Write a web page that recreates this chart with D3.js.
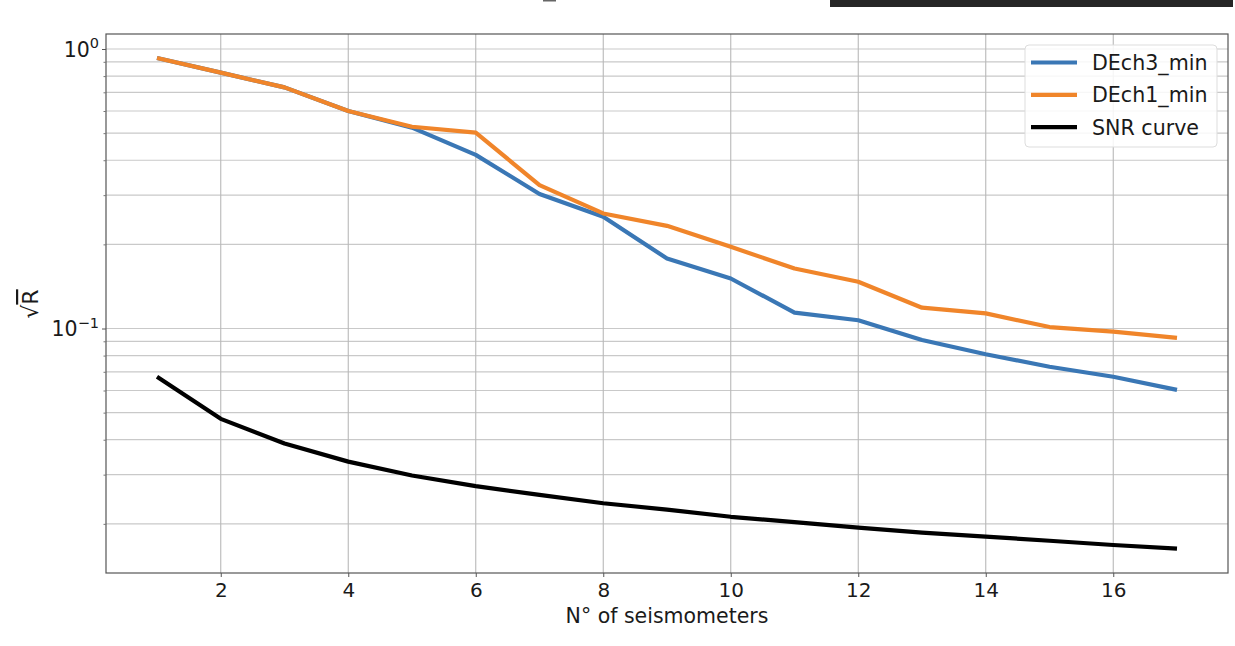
<!DOCTYPE html>
<html>
<head>
<meta charset="utf-8">
<script src="https://cdn.jsdelivr.net/npm/d3@7"></script>
<style>
  html, body { margin: 0; padding: 0; background: #ffffff; }
  svg { display: block; font-family: "DejaVu Sans", sans-serif; }
</style>
</head>
<body>
<svg id="chart" width="1235" height="646"></svg>
<script>
// ---- data ----
const seismometers = [1, 2, 3, 4, 5, 6, 7, 8, 9, 10, 11, 12, 13, 14, 15, 16, 17];
const dech3Min = [0.929, 0.823, 0.729, 0.600, 0.523, 0.418, 0.303, 0.251, 0.178, 0.151, 0.114, 0.107, 0.091, 0.0809, 0.073, 0.0672, 0.0603];
const dech1Min = [0.929, 0.823, 0.729, 0.600, 0.527, 0.502, 0.326, 0.258, 0.233, 0.196, 0.164, 0.147, 0.1187, 0.1133, 0.1012, 0.0974, 0.0925];
const snrCurve = [0.0672, 0.0475, 0.0388, 0.0334, 0.0298, 0.0273, 0.0254, 0.0237, 0.0225, 0.0212, 0.0203, 0.0194, 0.0186, 0.0180, 0.0174, 0.0168, 0.0163];
const seriesNames = ["DEch3_min", "DEch1_min", "SNR curve"];
const xTickValues = [2, 4, 6, 8, 10, 12, 14, 16];
const yMajorTicks = [1, 0.1];
const yMajorExponents = ["0", "\u22121"];
const xLabel = "N\u00B0 of seismometers";

(function () {
// ---- layout ----
const svg = d3.select("#chart");
const pL = 106, pR = 1228, pT = 34, pB = 573;
const colors = ["#3a77b5", "#f0852a", "#000000"];

const x = d3.scaleLinear().domain([0.2, 17.8]).range([pL, pR]);
const y = d3.scaleLog().domain([Math.pow(10, -1.8748), Math.pow(10, 0.0537)]).range([pB, pT]);

// top strip artefacts (cropped remains of the original screenshot)
svg.append("rect").attr("x", 830).attr("y", 0).attr("width", 403).attr("height", 7).attr("fill", "#262626");
svg.append("rect").attr("x", 543).attr("y", 0).attr("width", 13).attr("height", 1.5).attr("fill", "#666");

const [d0, d1] = y.domain();
const allTicks = y.ticks().filter(v => v >= d0 && v <= d1);
const minorTicks = allTicks.filter(v => !yMajorTicks.some(m => Math.abs(m - v) < 1e-9));

// grid
const grid = svg.append("g");
grid.selectAll("line.h").data(allTicks).enter().append("line")
  .attr("x1", pL).attr("x2", pR)
  .attr("y1", d => y(d)).attr("y2", d => y(d))
  .attr("stroke", "#c9c9c9").attr("stroke-width", 1.2);
grid.selectAll("line.v").data(xTickValues).enter().append("line")
  .attr("y1", pT).attr("y2", pB)
  .attr("x1", d => x(d)).attr("x2", d => x(d))
  .attr("stroke", "#b8b8b8").attr("stroke-width", 1.1);

// lines
const seriesData = [dech3Min, dech1Min, snrCurve];
const line = d3.line().x((d, i) => x(seismometers[i])).y(d => y(d));
seriesData.forEach((s, k) => {
  svg.append("path").datum(s).attr("d", line)
    .attr("fill", "none").attr("stroke", colors[k]).attr("stroke-width", 4.2)
    .attr("stroke-linejoin", "round").attr("stroke-linecap", "butt");
});

// axes frame
svg.append("rect").attr("x", pL).attr("y", pT).attr("width", pR - pL).attr("height", pB - pT)
  .attr("fill", "none").attr("stroke", "#555").attr("stroke-width", 1.2);

// x axis
const xAxis = svg.append("g").attr("transform", `translate(0,${pB})`)
  .call(d3.axisBottom(x).tickValues(xTickValues).tickSize(4).tickPadding(6).tickFormat(d3.format("d")));
xAxis.select(".domain").remove();
xAxis.selectAll(".tick line").attr("stroke", "#555");
xAxis.selectAll(".tick text").attr("font-size", 20).attr("fill", "#1a1a1a").attr("font-family", "DejaVu Sans");

// y axis ticks
const yAxisMajor = svg.append("g").attr("transform", `translate(${pL},0)`)
  .call(d3.axisLeft(y).tickValues(yMajorTicks).tickSize(4).tickFormat(""));
yAxisMajor.select(".domain").remove();
yAxisMajor.selectAll(".tick line").attr("stroke", "#555");
const yAxisMinor = svg.append("g").attr("transform", `translate(${pL},0)`)
  .call(d3.axisLeft(y).tickValues(minorTicks).tickSize(2.5).tickFormat(""));
yAxisMinor.select(".domain").remove();
yAxisMinor.selectAll(".tick line").attr("stroke", "#777");

// y tick labels with superscript
yMajorTicks.forEach((v, i) => {
  const t = svg.append("text").attr("x", pL - 7).attr("y", y(v) + 7.5)
    .attr("text-anchor", "end").attr("font-size", 20.5).attr("fill", "#1a1a1a");
  t.append("tspan").text("10");
  t.append("tspan").attr("dy", -8.5).attr("font-size", 14.5).text(yMajorExponents[i]);
});

// axis labels
svg.append("text").attr("x", (pL + pR) / 2).attr("y", 623).attr("text-anchor", "middle")
  .attr("font-size", 20.5).attr("fill", "#1a1a1a").text(xLabel);
const yl = svg.append("text").attr("transform", "translate(38,304) rotate(-90)")
  .attr("text-anchor", "middle").attr("font-size", 22).attr("fill", "#1a1a1a");
yl.append("tspan").text("\u221A");
yl.append("tspan").attr("text-decoration", "overline").text("R");

// legend
const lg = svg.append("g");
lg.append("rect").attr("x", 1025).attr("y", 45).attr("width", 192).attr("height", 102)
  .attr("rx", 4).attr("fill", "#ffffff").attr("fill-opacity", 0.85).attr("stroke", "#dddddd");
seriesNames.forEach((name, k) => {
  const cy = 62.5 + k * 32.3;
  lg.append("line").attr("x1", 1031).attr("x2", 1077).attr("y1", cy).attr("y2", cy)
    .attr("stroke", colors[k]).attr("stroke-width", 4.2);
  lg.append("text").attr("x", 1092).attr("y", cy + 7.5).attr("font-size", 20.6).attr("fill", "#1a1a1a").text(name);
});
})();
</script>
</body>
</html>
